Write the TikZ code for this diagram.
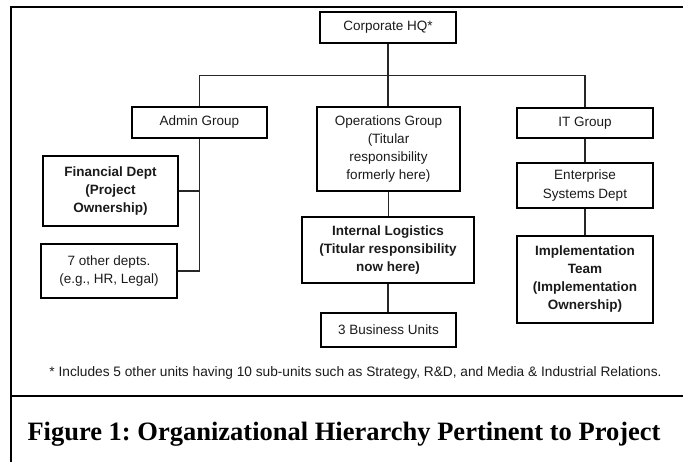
\documentclass[tikz,border=0pt]{standalone}
\usepackage{fontspec}
\setmainfont{Liberation Serif}
\setsansfont{Liberation Sans}
\usetikzlibrary{positioning}
\frenchspacing
\definecolor{ink}{HTML}{1a1a1a}
\tikzstyle{unit} = [rectangle, draw=black, line width=1.4pt, inner sep=0pt, align=center, text=ink, font=\sffamily\fontsize{13.5}{18.2}\selectfont]
\tikzstyle{keyunit} = [unit, font=\sffamily\bfseries\fontsize{13.5}{18}\selectfont]
\tikzstyle{link} = [line width=1.1pt, draw=black!85]
\tikzstyle{frame} = [line width=2.6pt, draw=black]

\begin{document}
\begin{tikzpicture}[x=1pt, y=-1pt]
    \useasboundingbox (0,0) rectangle (683,462);
    \node (hq) [unit, minimum width=136pt, minimum height=31pt] at (388,27.5) {Corporate HQ*};
    \node (ops) [unit, below of = hq, node distance=121.5pt, xshift=0.5pt, minimum width=143pt, minimum height=84pt] {Operations Group\\(Titular\\responsibility\\formerly here)};
    \node (admin) [unit, left of = ops, node distance=189pt, yshift=26.5pt, minimum width=135pt, minimum height=31pt] {Admin Group};
    \node (it) [unit, right of = ops, node distance=196.5pt, yshift=26pt, minimum width=136pt, minimum height=30pt] {IT Group};
    \node (fin) [keyunit, below of = admin, node distance=68.5pt, xshift=-89pt, minimum width=135pt, minimum height=70pt] {Financial Dept\\(Project\\Ownership)};
    \node (other) [unit, below of = fin, node distance=80pt, xshift=-1.5pt, minimum width=136pt, minimum height=54pt] {7 other depts.\\(e.g., HR, Legal)};
    \node (logi) [keyunit, below of = ops, node distance=101pt, xshift=-0.5pt, minimum width=172pt, minimum height=66pt] {Internal Logistics\\(Titular responsibility\\now here)};
    \node (bu) [unit, below of = logi, node distance=80pt, xshift=0.5pt, minimum width=135pt, minimum height=34pt] {3 Business Units};
    \node (esd) [unit, below of = it, node distance=62.5pt, minimum width=136pt, minimum height=45pt] {Enterprise\\Systems Dept};
    \node (impl) [keyunit, below of = esd, node distance=94pt, minimum width=136pt, minimum height=87pt] {Implementation\\Team\\(Implementation\\Ownership)};
    \node (note) [below of = bu, node distance=43pt, xshift=-33pt, text=ink, font=\sffamily\fontsize{13.7}{15}\selectfont] {* Includes 5 other units having 10 sub-units such as Strategy, R\&D, and Media \& Industrial Relations.};
    \node (caption) [below of = note, node distance=61pt, xshift=-11.5pt, font=\rmfamily\bfseries\fontsize{26.5}{30}\selectfont] {Figure 1: Organizational Hierarchy Pertinent to Project};
    \coordinate (bus) at (388,75.5);
    % hierarchy lines
    \draw [link] (hq.south) -- (hq.south |- ops.north);
    \draw [link] (admin.north) -- (admin.north |- bus) -| (it.north);
    \draw [link] (admin) |- (other);
    \draw [link] (fin.east) -- (fin.east -| admin);
    \draw [link] (ops.south) -- (ops.south |- logi.north);
    \draw [link] (logi.south) -- (logi.south |- bu.north);
    \draw [link] (it) -- (esd);
    \draw [link] (esd) -- (impl);
    % outer frame
    \draw [frame] (11,462) -- (11,7) -- (683,7);
    \draw [frame] (11,396) -- (683,396);
\end{tikzpicture}
\end{document}
